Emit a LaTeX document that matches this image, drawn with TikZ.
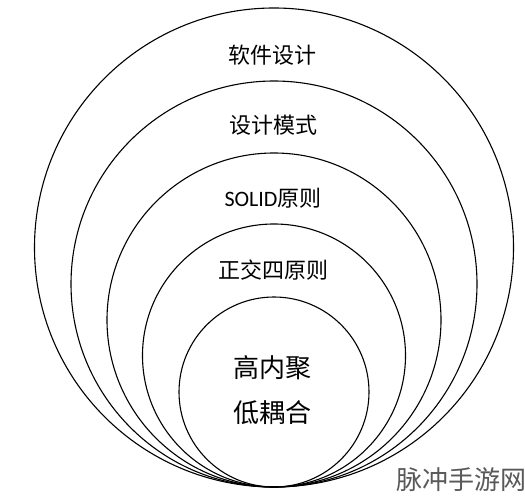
\documentclass[tikz,border=0pt]{standalone}
\usepackage{fontspec}
\setmainfont{Carlito}
\newfontfamily\cjk{Noto Sans CJK SC}
\newfontfamily\latinf{Carlito}
\begin{document}
\begin{tikzpicture}[x=1pt,y=-1pt,
  ring/.style={draw=black,line width=1.1pt},
  lbl/.style={inner sep=0pt,font=\fontsize{22}{26}\selectfont\cjk},
  corelbl/.style={inner sep=0pt,font=\fontsize{26}{30}\selectfont\cjk},
  wm/.style={inner sep=0pt,text=black!65,font=\fontsize{26}{30}\selectfont\cjk}]
\useasboundingbox (0,0) rectangle (525,500);
\fill[white] (0,0) rectangle (525,500);
\foreach \r/\n in {239.5/c1,203/c2,167/c3,131.5/c4,95/c5}{
  \draw[ring] (274,487-\r) circle[radius=\r pt];
}
\node[lbl] (t1) at (272,55) {软件设计};
\node[lbl] (t2) at (273,125) {设计模式};
\node[lbl] (t3) at (273,198) {{\latinf SOLID}原则};
\node[lbl] (t4) at (273,270) {正交四原则};
\node[corelbl] (t5) at (272,368) {高内聚};
\node[corelbl] (t6) at (272,413) {低耦合};
\node[wm] (w) at (461,480) {脉冲手游网};
\end{tikzpicture}
\end{document}
